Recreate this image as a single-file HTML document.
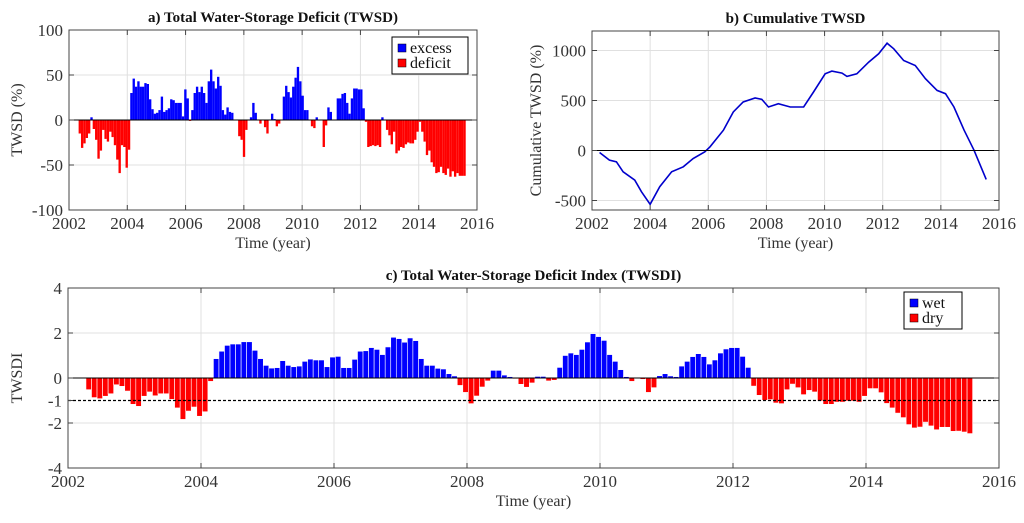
<!DOCTYPE html>
<html><head><meta charset="utf-8"><style>
body{margin:0;background:#fff}
svg{display:block;font-family:"Liberation Serif",serif}
</style></head><body>
<svg id="s" width="1024" height="523" viewBox="0 0 1024 523" xmlns="http://www.w3.org/2000/svg"></svg>
<script>
const twsdValues=[-15,-31,-26,-20,-15,3,-10,-22,-43,-34,-11,-21,-24,-13,-19,-28,-44,-59,-28,-30,-53,-33,30,46,37,43,37,37,41,40,23,12,7,8,11,26,9,11,13,23,22,19,19,19,4,34,24,-1,11,30,37,31,37,30,19,43,56,43,35,48,38,11,6,14,9,8,0,0,-18,-22,-41,-11,0,3,19,8,0,-4,0,-8,-15,0,7,1,-7,-4,0,26,38,31,25,37,47,59,43,27,11,11,0,-7,-9,3,0,0,-30,-6,14,9,0,0,24,24,29,30,19,7,24,35,35,34,34,13,-2,-30,-29,-28,-29,-28,-30,3,0,-11,-17,-27,-13,-37,-34,-30,-31,-27,-25,-26,-26,-22,-13,-2,-13,-24,-39,-34,-47,-52,-59,-58,-52,-59,-61,-54,-63,-57,-63,-59,-62,-62,-62];
const twsdStart=2002.33, twsdStep=0.0805;
const cumYears=[2002.26,2002.6,2002.84,2003.07,2003.47,2003.7,2004,2004.33,2004.74,2005.14,2005.48,2005.88,2006.06,2006.52,2006.86,2007.2,2007.61,2007.84,2008.07,2008.41,2008.82,2009.28,2009.62,2010.02,2010.25,2010.6,2010.77,2011.11,2011.52,2011.86,2012.15,2012.38,2012.72,2013.12,2013.47,2013.87,2014.16,2014.45,2014.8,2015.14,2015.56];
const cumValues=[-20,-96,-113,-213,-296,-412,-538,-362,-213,-163,-80,-13,37,203,385,485,525,512,435,468,435,435,585,767,794,774,741,767,884,967,1073,1017,900,850,718,601,568,435,203,3,-289];
const twsdiValues=[-0.52,-0.87,-0.92,-0.81,-0.7,-0.3,-0.37,-0.58,-1.17,-1.26,-0.81,-0.62,-0.79,-0.7,-0.7,-0.95,-1.33,-1.84,-1.47,-1.29,-1.7,-1.5,-0.15,0.86,1.19,1.45,1.51,1.51,1.61,1.61,1.23,0.86,0.56,0.44,0.46,0.77,0.56,0.5,0.53,0.74,0.84,0.8,0.8,0.5,0.93,0.96,0.46,0.46,0.83,1.19,1.21,1.35,1.27,1.04,1.38,1.81,1.75,1.59,1.78,1.66,0.86,0.56,0.56,0.43,0.4,0.19,0.09,-0.33,-0.64,-1.14,-0.8,-0.4,-0.13,0.34,0.34,0.13,0.06,-0.04,-0.28,-0.41,-0.22,0.07,0.07,-0.13,-0.1,0.47,1.0,1.11,1.04,1.27,1.6,1.97,1.84,1.67,1.04,0.74,0.37,0.06,-0.15,-0.03,-0.06,-0.64,-0.43,0.1,0.19,0.09,0.06,0.53,0.74,0.95,1.08,0.95,0.62,0.8,1.11,1.29,1.35,1.35,0.96,0.47,-0.36,-0.77,-0.99,-0.96,-1.11,-1.14,-0.52,-0.27,-0.43,-0.74,-0.55,-0.62,-1.02,-1.17,-1.17,-1.07,-1.07,-1.02,-1.02,-1.07,-0.81,-0.47,-0.47,-0.65,-1.13,-1.33,-1.56,-1.76,-2.07,-2.22,-2.18,-1.96,-2.13,-2.3,-2.19,-2.19,-2.37,-2.36,-2.4,-2.47];
const twsdiStart=2002.27, twsdiStep=1/12;
const xTicks=[2002,2004,2006,2008,2010,2012,2014,2016];
const aYTicks=[100,50,0,-50,-100];
const bYTicks=[1000,500,0,-500];
const cYTicks=[4,2,0,-1,-2,-4];

const S=document.getElementById('s');const NS='http://www.w3.org/2000/svg';
function mk(t,a,p,txt){const e=document.createElementNS(NS,t);for(const k in a)e.setAttribute(k,a[k]);if(txt!==undefined)e.textContent=txt;(p||S).appendChild(e);return e;}

function panel(o){
  const g=mk('g',{});
  
  
  const X=v=>o.x0+(v-2002)/14*(o.x1-o.x0);
  const Y=v=>o.y0+(o.ymax-v)/(o.ymax-o.ymin)*(o.y1-o.y0);
  xTicks.forEach(t=>{if(t>2002&&t<2016)mk('line',{x1:X(t),x2:X(t),y1:o.y0,y2:o.y1,stroke:'#e0e0e0','stroke-width':1},g);});
  o.grid.forEach(t=>mk('line',{x1:o.x0,x2:o.x1,y1:Y(t),y2:Y(t),stroke:'#e0e0e0','stroke-width':1},g));
  o.draw(g,X,Y);
  mk('line',{x1:o.x0,x2:o.x1,y1:Y(0),y2:Y(0),stroke:'#000','stroke-width':1},g);
  mk('rect',{x:o.x0,y:o.y0,width:o.x1-o.x0,height:o.y1-o.y0,fill:'none',stroke:'#444','stroke-width':1},g);
  xTicks.forEach(t=>{
    mk('line',{x1:X(t),x2:X(t),y1:o.y1,y2:o.y1-5,stroke:'#444'},g);
    mk('line',{x1:X(t),x2:X(t),y1:o.y0,y2:o.y0+5,stroke:'#444'},g);
    const l=mk('text',{x:X(t),y:o.y1+19,'text-anchor':'middle','font-size':17,fill:'#333'},g,t);
    
  });
  o.yt.forEach(t=>{
    mk('line',{x1:o.x0,x2:o.x0+5,y1:Y(t),y2:Y(t),stroke:'#444'},g);
    mk('line',{x1:o.x1,x2:o.x1-5,y1:Y(t),y2:Y(t),stroke:'#444'},g);
    const l=mk('text',{x:o.x0-6,y:Y(t)+6,'text-anchor':'end','font-size':17,fill:'#333'},g,t);
    
  });
  const ti=mk('text',{x:(o.x0+o.x1)/2,y:o.y0-8,'text-anchor':'middle','font-size':15,'font-weight':'bold',fill:'#111'},g,o.title);
  
  const xl=mk('text',{x:(o.x0+o.x1)/2,y:o.y1+38,'text-anchor':'middle','font-size':16,fill:'#333'},g,'Time (year)');
  
  const yc=(o.y0+o.y1)/2;
  const yl=mk('text',{x:o.ylx,y:yc,'text-anchor':'middle','font-size':16,fill:'#333',transform:`rotate(-90 ${o.ylx} ${yc})`},g,o.ylabel);
  
  return {g,X,Y};
}
function legend(g,x,y,w,items){
  const L=mk('g',{},g);
  
  mk('rect',{x,y,width:w,height:items.length*15+7,fill:'#fff',stroke:'#000','stroke-width':1},L);
  items.forEach((it,i)=>{
    const e=mk('g',{},L);
    
    mk('rect',{x:x+6,y:y+7+i*15,width:8,height:8,fill:it[1],stroke:'#000','stroke-width':0.5},e);
    mk('text',{x:x+18,y:y+16+i*15,'font-size':16,fill:'#111'},e,it[0]);
  });
}
const A=panel({name:'panel-a-twsd',x0:69,x1:477,y0:30,y1:210,ymin:-100,ymax:100,grid:[50,-50],yt:aYTicks,title:'a) Total Water-Storage Deficit (TWSD)',ylabel:'TWSD (%)',ylx:22,
 draw:(g,X,Y)=>{twsdValues.forEach((v,i)=>{const t=twsdStart+i*twsdStep;const x=X(t),w=X(t+twsdStep)-x;
  const r=mk('rect',{x,y:Math.min(Y(v),Y(0)),width:w,height:Math.abs(Y(v)-Y(0)),fill:v>=0?'#0000ff':'#ff0000'},g);
  });}});
legend(A.g,392,37,76,[['excess','#0000ff'],['deficit','#ff0000']]);
panel({name:'panel-b-cumulative',x0:592,x1:999,y0:31,y1:210,ymin:-595,ymax:1195,grid:[1000,500,-500],yt:bYTicks,title:'b) Cumulative TWSD',ylabel:'Cumulative TWSD (%)',ylx:541,
 draw:(g,X,Y)=>{const p=mk('polyline',{points:cumValues.map((v,i)=>X(cumYears[i])+','+Y(v)).join(' '),fill:'none',stroke:'#0000cc','stroke-width':1.6},g);
  }});
const C=panel({name:'panel-c-twsdi',x0:68,x1:999,y0:288,y1:468,ymin:-4,ymax:4,grid:[2,-2],yt:cYTicks,title:'c) Total Water-Storage Deficit Index (TWSDI)',ylabel:'TWSDI',ylx:22,
 draw:(g,X,Y)=>{twsdiValues.forEach((v,i)=>{const t=twsdiStart+i*twsdiStep;const x=X(t),w=X(t+twsdiStep)-x;
  const r=mk('rect',{x,y:Math.min(Y(v),Y(0)),width:w,height:Math.abs(Y(v)-Y(0)),fill:v>=0?'#0000ff':'#ff0000',stroke:'#fff','stroke-width':0.6},g);
  });
  const d=mk('line',{x1:68,x2:999,y1:Y(-1),y2:Y(-1),stroke:'#000','stroke-width':1.2,'stroke-dasharray':'3,2'},g);
  }});
legend(C.g,904,292,58,[['wet','#0000ff'],['dry','#ff0000']]);
</script>
</body></html>
